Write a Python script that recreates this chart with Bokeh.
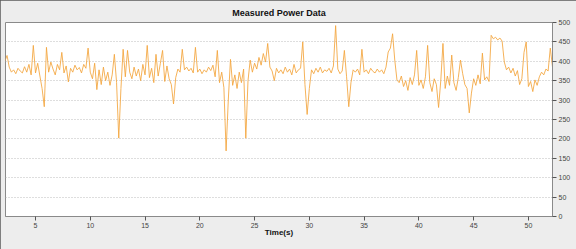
import numpy as np
from bokeh.plotting import figure
from bokeh.models import FixedTicker, ColumnDataSource
from bokeh.embed import file_html
from bokeh.resources import INLINE

# Measured power (W) sampled every 0.2 s starting at t = 2.2 s
power = [
    400, 415, 385, 372, 378,
    368, 382, 375, 370, 386,
    372, 392, 365, 441, 370,
    395, 362, 330, 283, 436,
    372, 398, 380, 365, 392,
    378, 423, 370, 388, 347,
    382, 372, 390, 378, 384,
    370, 392, 382, 434, 372,
    355, 395, 327, 378, 340,
    385, 350, 372, 338, 365,
    418, 345, 202, 330, 431,
    360, 428, 372, 355, 385,
    362, 380, 350, 392, 365,
    441, 358, 382, 345, 418,
    362, 395, 428, 348, 388,
    355, 340, 290, 358, 380,
    372, 431, 378, 385, 375,
    382, 370, 436, 372, 380,
    368, 378, 372, 385, 376,
    390, 360, 428, 345, 372,
    332, 169, 300, 405, 338,
    365, 330, 372, 345, 380,
    202, 350, 403, 372, 395,
    380, 410, 390, 420, 398,
    446, 385, 375, 350, 382,
    370, 378, 368, 385, 372,
    380, 365, 392, 370, 378,
    382, 450, 340, 263, 330,
    378, 368, 382, 372, 385,
    370, 378, 374, 382, 370,
    388, 492, 380, 368, 375,
    428, 360, 283, 345, 378,
    372, 380, 365, 431, 372,
    378, 368, 382, 374, 370,
    380, 372, 378, 368, 385,
    424, 434, 471, 403, 352,
    345, 362, 335, 350, 325,
    358, 340, 365, 428, 338,
    352, 330, 360, 441, 345,
    322, 355, 340, 281, 350,
    446, 330, 362, 338, 416,
    345, 325, 358, 403, 368,
    340, 330, 267, 318, 355,
    338, 365, 342, 421, 352,
    360, 348, 467, 458, 462,
    455, 460, 452, 398, 378,
    385, 370, 382, 362, 376,
    340, 355, 423, 450, 335,
    348, 322, 352, 338, 360,
    372, 365, 380, 375, 434,
    385,
]
t_start = 2.2
t_step = 0.2
time_s = [round(t_start + t_step * i, 1) for i in range(len(power))]

x_ticks = [5, 10, 15, 20, 25, 30, 35, 40, 45, 50]
y_ticks = [0, 50, 100, 150, 200, 250, 300, 350, 400, 450, 500]

FONT = "Liberation Sans"

p = figure(
    width=576, height=249,
    x_range=(2.26, 52.2), y_range=(0, 500),
    y_axis_location="right",
    output_backend="svg", toolbar_location=None,
    min_border_left=5, min_border_right=24,
    min_border_top=19, min_border_bottom=33,
    background_fill_color="white",
    border_fill_color="#ededed",
    outline_line_color="#8a8a8a",
)

p.title.text = "Measured Power Data"
p.title.align = "center"
p.title.text_font = FONT
p.title.text_font_size = "9px"
p.title.text_font_style = "bold"
p.title.text_color = "#111111"
p.title.offset = 9

src = ColumnDataSource(dict(t=time_s, p=power))
p.line("t", "p", source=src, line_color="#f3a43c", line_width=1, line_alpha=0.85)

# axes
p.xaxis.ticker = FixedTicker(ticks=x_ticks)
p.yaxis.ticker = FixedTicker(ticks=y_ticks)
for ax in (p.xaxis[0], p.yaxis[0]):
    ax.major_label_text_font = FONT
    ax.major_label_text_font_size = "7px"
    ax.major_label_text_color = "#444444"
    ax.axis_line_color = "#8a8a8a"
    ax.major_tick_line_color = "#555555"
    ax.major_tick_in = 0
    ax.major_tick_out = 4
    ax.minor_tick_line_color = None
    ax.major_label_standoff = 2
p.xaxis.axis_label = "Time(s)"
p.xaxis.axis_label_text_font = FONT
p.xaxis.axis_label_text_font_size = "8px"
p.xaxis.axis_label_text_font_style = "bold"
p.xaxis.axis_label_text_color = "#111111"
p.xaxis.axis_label_standoff = -3

p.xgrid.grid_line_color = None
p.ygrid.ticker = FixedTicker(ticks=y_ticks)
p.ygrid.grid_line_color = "#bdbdbd"
p.ygrid.grid_line_dash = "1 2"
p.ygrid.grid_line_width = 1

p.styles = {"outline": "2px solid #5a5a5a", "outline-offset": "-2px"}

open("out.html", "w").write(file_html(p, INLINE))
